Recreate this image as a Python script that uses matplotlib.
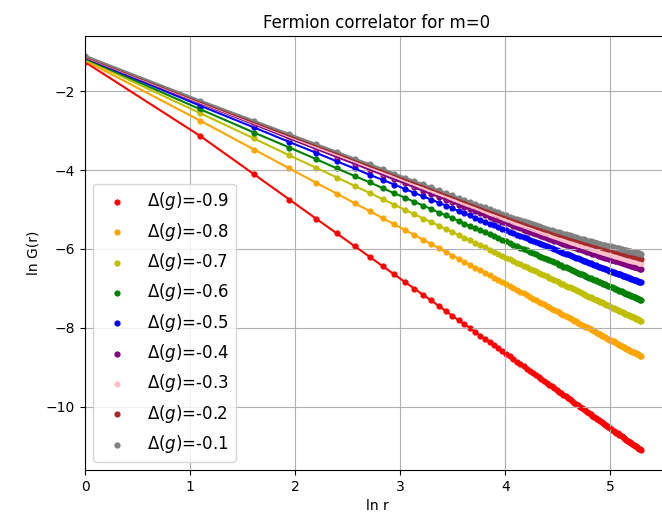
import numpy as np
import matplotlib
matplotlib.use("Agg")
import matplotlib.pyplot as plt

# odd separations r = 1, 3, ..., 199
r = np.arange(1, 200, 2)
deltas = ["-0.9", "-0.8", "-0.7", "-0.6", "-0.5", "-0.4", "-0.3", "-0.2", "-0.1"]
colors = ["red", "orange", "y", "green", "blue", "purple", "pink", "brown", "gray"]

lnG_09 = [-1.26, -3.14, -4.11, -4.75, -5.23, -5.61, -5.93, -6.20, -6.44, -6.65,
          -6.84, -7.01, -7.17, -7.31, -7.45, -7.58, -7.70, -7.81, -7.91, -8.01,
          -8.11, -8.20, -8.29, -8.37, -8.45, -8.52, -8.60, -8.67, -8.73, -8.80,
          -8.86, -8.92, -8.98, -9.04, -9.10, -9.15, -9.20, -9.26, -9.31, -9.35,
          -9.40, -9.45, -9.49, -9.54, -9.58, -9.62, -9.66, -9.71, -9.74, -9.78,
          -9.82, -9.86, -9.90, -9.93, -9.97, -10.00, -10.03, -10.07, -10.10, -10.13,
          -10.16, -10.20, -10.23, -10.26, -10.29, -10.32, -10.34, -10.37, -10.40, -10.43,
          -10.46, -10.48, -10.51, -10.53, -10.56, -10.59, -10.61, -10.64, -10.66, -10.68,
          -10.71, -10.73, -10.75, -10.78, -10.80, -10.82, -10.84, -10.87, -10.89, -10.91,
          -10.93, -10.95, -10.97, -10.99, -11.01, -11.03, -11.05, -11.07, -11.09, -11.11]
lnG_08 = [-1.22, -2.75, -3.48, -3.96, -4.32, -4.60, -4.84, -5.04, -5.22, -5.38,
          -5.52, -5.65, -5.77, -5.88, -5.98, -6.08, -6.17, -6.25, -6.33, -6.41,
          -6.48, -6.54, -6.61, -6.67, -6.73, -6.79, -6.84, -6.89, -6.95, -6.99,
          -7.04, -7.09, -7.13, -7.18, -7.22, -7.26, -7.30, -7.34, -7.37, -7.41,
          -7.45, -7.48, -7.52, -7.55, -7.58, -7.61, -7.64, -7.67, -7.70, -7.73,
          -7.76, -7.79, -7.82, -7.84, -7.87, -7.90, -7.92, -7.95, -7.97, -7.99,
          -8.02, -8.04, -8.06, -8.09, -8.11, -8.13, -8.15, -8.17, -8.20, -8.22,
          -8.24, -8.26, -8.28, -8.30, -8.32, -8.33, -8.35, -8.37, -8.39, -8.41,
          -8.43, -8.44, -8.46, -8.48, -8.49, -8.51, -8.53, -8.54, -8.56, -8.58,
          -8.59, -8.61, -8.62, -8.64, -8.65, -8.67, -8.68, -8.70, -8.71, -8.73]
lnG_07 = [-1.19, -2.56, -3.20, -3.63, -3.94, -4.19, -4.40, -4.58, -4.74, -4.88,
          -5.01, -5.12, -5.23, -5.32, -5.41, -5.50, -5.57, -5.65, -5.72, -5.78,
          -5.85, -5.91, -5.96, -6.02, -6.07, -6.12, -6.17, -6.22, -6.26, -6.30,
          -6.35, -6.39, -6.43, -6.46, -6.50, -6.54, -6.57, -6.61, -6.64, -6.67,
          -6.70, -6.73, -6.76, -6.79, -6.82, -6.85, -6.88, -6.90, -6.93, -6.96,
          -6.98, -7.00, -7.03, -7.05, -7.08, -7.10, -7.12, -7.14, -7.17, -7.19,
          -7.21, -7.23, -7.25, -7.27, -7.29, -7.31, -7.33, -7.35, -7.36, -7.38,
          -7.40, -7.42, -7.43, -7.45, -7.47, -7.49, -7.50, -7.52, -7.53, -7.55,
          -7.57, -7.58, -7.60, -7.61, -7.63, -7.64, -7.66, -7.67, -7.69, -7.70,
          -7.71, -7.73, -7.74, -7.75, -7.77, -7.78, -7.79, -7.81, -7.82, -7.83]
lnG_06 = [-1.17, -2.46, -3.05, -3.43, -3.72, -3.96, -4.15, -4.31, -4.46, -4.59,
          -4.70, -4.81, -4.90, -4.99, -5.08, -5.15, -5.22, -5.29, -5.36, -5.42,
          -5.48, -5.53, -5.58, -5.63, -5.68, -5.73, -5.77, -5.81, -5.86, -5.90,
          -5.93, -5.97, -6.01, -6.04, -6.08, -6.11, -6.14, -6.17, -6.20, -6.23,
          -6.26, -6.29, -6.32, -6.34, -6.37, -6.40, -6.42, -6.45, -6.47, -6.49,
          -6.52, -6.54, -6.56, -6.58, -6.60, -6.63, -6.65, -6.67, -6.69, -6.71,
          -6.73, -6.74, -6.76, -6.78, -6.80, -6.82, -6.83, -6.85, -6.87, -6.89,
          -6.90, -6.92, -6.93, -6.95, -6.97, -6.98, -7.00, -7.01, -7.03, -7.04,
          -7.06, -7.07, -7.08, -7.10, -7.11, -7.12, -7.14, -7.15, -7.16, -7.18,
          -7.19, -7.20, -7.22, -7.23, -7.24, -7.25, -7.26, -7.28, -7.29, -7.30]
lnG_05 = [-1.15, -2.37, -2.92, -3.29, -3.56, -3.78, -3.96, -4.12, -4.25, -4.37,
          -4.48, -4.58, -4.67, -4.75, -4.83, -4.90, -4.97, -5.04, -5.10, -5.15,
          -5.21, -5.26, -5.31, -5.36, -5.40, -5.44, -5.49, -5.52, -5.56, -5.60,
          -5.64, -5.67, -5.70, -5.73, -5.77, -5.80, -5.83, -5.85, -5.88, -5.91,
          -5.93, -5.96, -5.99, -6.01, -6.03, -6.06, -6.08, -6.10, -6.12, -6.14,
          -6.16, -6.18, -6.20, -6.22, -6.24, -6.26, -6.28, -6.30, -6.32, -6.33,
          -6.35, -6.37, -6.38, -6.40, -6.42, -6.43, -6.45, -6.46, -6.48, -6.49,
          -6.51, -6.52, -6.53, -6.55, -6.56, -6.58, -6.59, -6.60, -6.61, -6.63,
          -6.64, -6.65, -6.66, -6.68, -6.69, -6.70, -6.71, -6.72, -6.73, -6.75,
          -6.76, -6.77, -6.78, -6.79, -6.80, -6.81, -6.82, -6.83, -6.84, -6.85]
lnG_04 = [-1.14, -2.31, -2.84, -3.20, -3.46, -3.67, -3.84, -3.99, -4.12, -4.24,
          -4.34, -4.44, -4.53, -4.61, -4.68, -4.75, -4.82, -4.88, -4.94, -4.99,
          -5.04, -5.09, -5.14, -5.19, -5.23, -5.27, -5.31, -5.35, -5.38, -5.42,
          -5.45, -5.48, -5.51, -5.54, -5.57, -5.60, -5.62, -5.65, -5.68, -5.70,
          -5.72, -5.75, -5.77, -5.79, -5.81, -5.83, -5.85, -5.87, -5.89, -5.91,
          -5.93, -5.95, -5.96, -5.98, -6.00, -6.01, -6.03, -6.04, -6.06, -6.07,
          -6.09, -6.10, -6.12, -6.13, -6.14, -6.16, -6.17, -6.18, -6.20, -6.21,
          -6.22, -6.23, -6.24, -6.26, -6.27, -6.28, -6.29, -6.30, -6.31, -6.32,
          -6.33, -6.34, -6.35, -6.36, -6.37, -6.38, -6.39, -6.40, -6.41, -6.42,
          -6.43, -6.44, -6.45, -6.45, -6.46, -6.47, -6.48, -6.49, -6.50, -6.50]
lnG_03 = [-1.13, -2.29, -2.81, -3.16, -3.42, -3.62, -3.79, -3.94, -4.07, -4.18,
          -4.28, -4.38, -4.46, -4.54, -4.62, -4.68, -4.75, -4.81, -4.87, -4.92,
          -4.97, -5.02, -5.07, -5.11, -5.15, -5.19, -5.23, -5.27, -5.30, -5.34,
          -5.37, -5.40, -5.43, -5.46, -5.48, -5.51, -5.54, -5.56, -5.59, -5.61,
          -5.63, -5.65, -5.68, -5.70, -5.72, -5.74, -5.75, -5.77, -5.79, -5.81,
          -5.83, -5.84, -5.86, -5.87, -5.89, -5.91, -5.92, -5.94, -5.95, -5.96,
          -5.98, -5.99, -6.00, -6.02, -6.03, -6.04, -6.05, -6.07, -6.08, -6.09,
          -6.10, -6.11, -6.12, -6.13, -6.14, -6.15, -6.16, -6.17, -6.18, -6.19,
          -6.20, -6.21, -6.22, -6.23, -6.24, -6.25, -6.26, -6.27, -6.27, -6.28,
          -6.29, -6.30, -6.31, -6.31, -6.32, -6.33, -6.34, -6.35, -6.35, -6.36]
lnG_02 = [-1.12, -2.27, -2.79, -3.13, -3.38, -3.58, -3.75, -3.90, -4.02, -4.13,
          -4.24, -4.33, -4.41, -4.49, -4.56, -4.63, -4.69, -4.75, -4.81, -4.86,
          -4.91, -4.96, -5.01, -5.05, -5.09, -5.13, -5.17, -5.20, -5.24, -5.27,
          -5.30, -5.33, -5.36, -5.39, -5.42, -5.44, -5.47, -5.49, -5.51, -5.54,
          -5.56, -5.58, -5.60, -5.62, -5.64, -5.66, -5.68, -5.70, -5.71, -5.73,
          -5.75, -5.76, -5.78, -5.79, -5.81, -5.82, -5.84, -5.85, -5.87, -5.88,
          -5.89, -5.91, -5.92, -5.93, -5.94, -5.95, -5.97, -5.98, -5.99, -6.00,
          -6.01, -6.02, -6.03, -6.04, -6.05, -6.06, -6.07, -6.08, -6.09, -6.10,
          -6.11, -6.12, -6.13, -6.13, -6.14, -6.15, -6.16, -6.17, -6.18, -6.18,
          -6.19, -6.20, -6.21, -6.21, -6.22, -6.23, -6.24, -6.24, -6.25, -6.26]
lnG_01 = [-1.10, -2.24, -2.75, -3.09, -3.34, -3.54, -3.71, -3.85, -3.97, -4.09,
          -4.19, -4.28, -4.36, -4.44, -4.51, -4.58, -4.64, -4.70, -4.75, -4.81,
          -4.86, -4.90, -4.95, -4.99, -5.03, -5.07, -5.11, -5.14, -5.18, -5.21,
          -5.24, -5.27, -5.30, -5.32, -5.35, -5.37, -5.40, -5.42, -5.44, -5.47,
          -5.49, -5.51, -5.53, -5.55, -5.56, -5.58, -5.60, -5.62, -5.63, -5.65,
          -5.66, -5.68, -5.69, -5.71, -5.72, -5.74, -5.75, -5.76, -5.77, -5.79,
          -5.80, -5.81, -5.82, -5.83, -5.85, -5.86, -5.87, -5.88, -5.89, -5.90,
          -5.91, -5.92, -5.93, -5.93, -5.94, -5.95, -5.96, -5.97, -5.98, -5.99,
          -5.99, -6.00, -6.01, -6.02, -6.03, -6.03, -6.04, -6.05, -6.05, -6.06,
          -6.07, -6.07, -6.08, -6.09, -6.09, -6.10, -6.11, -6.11, -6.12, -6.12]

series = [lnG_09, lnG_08, lnG_07, lnG_06, lnG_05, lnG_04, lnG_03, lnG_02, lnG_01]

fig = plt.figure(figsize=(6.62, 5.24), dpi=100)
# right spine sits just past the image edge, as in the reference crop
ax = fig.add_axes([85 / 662, 54 / 524, 584 / 662, 434 / 524])

lnr = np.log(r)
for d, c, y in zip(deltas, colors, series):
    ax.plot(lnr, y, color=c, lw=1.5)
    ax.scatter(lnr, y, s=12, color=c, label=r"$\Delta(g)$=" + d)

ax.set_xlim(left=0)
ax.grid(True)
ax.set_title("Fermion correlator for m=0")
ax.set_xlabel("ln r")
ax.set_ylabel("ln G(r)")
ax.legend(loc="lower left", fontsize=12)

fig.savefig("out.png", dpi=100)
